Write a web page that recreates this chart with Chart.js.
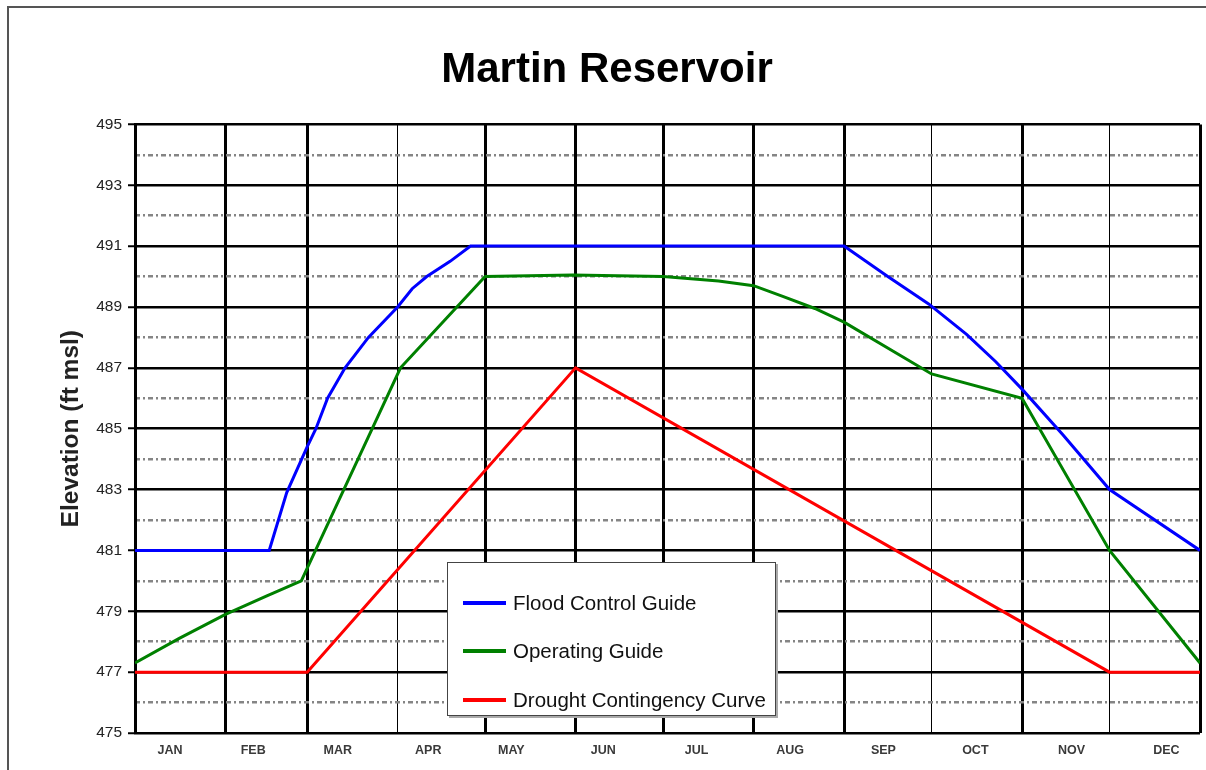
<!DOCTYPE html>
<html>
<head>
<meta charset="utf-8">
<title>Martin Reservoir</title>
<script src="https://cdn.jsdelivr.net/npm/chart.js@4.4.1/dist/chart.umd.min.js"></script>
<style>
  body { margin: 0; background: #fff; }
  #wrap { position: relative; width: 1206px; height: 770px; }
  #frame {
    position: absolute; left: 7px; top: 6px; width: 1199px; height: 764px;
    border-top: 2px solid #555; border-left: 2px solid #555; pointer-events: none;
  }
  #legend {
    position: absolute; left: 447px; top: 562px; width: 327px; height: 152px;
    background: #fff; border: 1px solid #444; box-shadow: 2px 2px 0 #aaa;
    font-family: "Liberation Sans", Arial, sans-serif; font-size: 20.5px; color: #111;
  }
  .item { position: absolute; left: 0; height: 26px; white-space: nowrap; }
  .item .swatch { position: absolute; left: 15px; top: 11px; width: 43px; height: 4px; }
  .item span { position: absolute; left: 65px; top: 1px; }
</style>
</head>
<body>
<div id="wrap">
  <canvas id="chart" width="1206" height="770"></canvas>
  <div id="frame"></div>
  <div id="legend"></div>
</div>
<script>
// day-of-year (0 = Jan 1) where each month starts, plus year end
const monthStarts = [0, 31, 59, 90, 120, 151, 181, 212, 243, 273, 304, 334, 365];
const thinMonthLines = [90, 273, 334];
const monthNames = ['JAN', 'FEB', 'MAR', 'APR', 'MAY', 'JUN', 'JUL', 'AUG', 'SEP', 'OCT', 'NOV', 'DEC'];
const monthLabelDays = [12, 40.5, 69.5, 100.5, 129, 160.5, 192.5, 224.5, 256.5, 288, 321, 353.5];

// elevation ticks
const solidTicks = [475, 477, 479, 481, 483, 485, 487, 489, 491, 493, 495];
const dottedTicks = [476, 478, 480, 482, 484, 486, 488, 490, 492, 494];

// series: [day, elevation ft msl]
const floodControl = [
  [0, 481], [46, 481], [52, 482.9], [59, 484.4], [62, 485], [66, 486], [72, 487],
  [80, 488], [90, 489], [95, 489.6], [100, 490], [108, 490.5], [115, 491], [243, 491],
  [258, 490], [272, 489.1], [285, 488.1], [295, 487.2], [304, 486.3],
  [318, 484.8], [334, 483], [365, 481]
];
const operatingGuide = [
  [0, 477.3], [15, 478.1], [31, 478.9], [45, 479.5], [57, 480], [91, 487],
  [120, 490], [150, 490.05], [181, 490], [200, 489.85], [212, 489.7],
  [222, 489.35], [233, 488.95], [243, 488.5], [273, 486.8], [304, 486], [334, 481], [365, 477.3]
];
const droughtCurve = [
  [0, 477], [59, 477], [151, 487], [334, 477], [365, 477]
];

const toPoints = arr => arr.map(p => ({ x: p[0], y: p[1] }));
const FONT = '"Liberation Sans", Arial, sans-serif';

const chart = new Chart(document.getElementById('chart'), {
  type: 'line',
  data: {
    datasets: [
      { label: 'Flood Control Guide', data: toPoints(floodControl), borderColor: '#0000ff' },
      { label: 'Operating Guide', data: toPoints(operatingGuide), borderColor: '#008000' },
      { label: 'Drought Contingency Curve', data: toPoints(droughtCurve), borderColor: '#ff0000' }
    ]
  },
  options: {
    responsive: false,
    animation: false,
    layout: { padding: { left: 14, right: 6, top: 0, bottom: 0 } },
    elements: {
      line: { borderWidth: 3, tension: 0, fill: false },
      point: { radius: 0 }
    },
    plugins: {
      legend: { display: false },
      tooltip: { enabled: false },
      title: {
        display: true,
        text: 'Martin Reservoir',
        color: '#000',
        font: { family: FONT, size: 42, weight: 'bold' },
        padding: { top: 45, bottom: 29 }
      }
    },
    scales: {
      x: {
        type: 'linear', position: 'bottom', min: 0, max: 365, weight: 0,
        afterBuildTicks: s => { s.ticks = monthStarts.map(v => ({ value: v })); },
        afterFit: s => { s.height = 0; },
        ticks: { display: false },
        grid: {
          color: '#000',
          lineWidth: c => (thinMonthLines.includes(c.tick && c.tick.value) ? 1 : 3),
          drawTicks: false
        },
        border: { display: false }
      },
      xm: {
        type: 'linear', position: 'bottom', min: 0, max: 365, weight: 1,
        afterBuildTicks: s => { s.ticks = monthLabelDays.map(v => ({ value: v })); },
        afterFit: s => { s.height = 37; },
        ticks: {
          autoSkip: false, maxRotation: 0, padding: 10, color: '#3a3a3a',
          font: { family: FONT, size: 12.5, weight: 'bold' },
          callback: (v, i) => monthNames[i]
        },
        grid: { display: false, drawTicks: false },
        border: { display: false }
      },
      y: {
        position: 'left', min: 475, max: 495,
        afterBuildTicks: s => { s.ticks = solidTicks.map(v => ({ value: v })); },
        afterFit: s => { s.width = 121; },
        ticks: { padding: 6, color: '#222', font: { family: FONT, size: 15.5 } },
        grid: { color: '#000', lineWidth: 2.5, tickLength: 7, tickColor: '#000', tickWidth: 2 },
        border: { display: true, color: '#000', width: 3 },
        title: {
          display: true, text: 'Elevation (ft msl)', color: '#222',
          font: { family: FONT, size: 24.5, weight: 'bold' },
          padding: { top: 43, bottom: 0 }
        }
      },
      y2: {
        position: 'right', min: 475, max: 495,
        afterBuildTicks: s => { s.ticks = dottedTicks.map(v => ({ value: v })); },
        afterFit: s => { s.width = 0; },
        ticks: { display: false },
        grid: { color: '#858585', lineWidth: 2.5, drawTicks: false },
        border: { display: false, dash: [5, 3, 2, 3] }
      }
    }
  }
});

// legend box inside the plot, built from the chart's datasets
const legendBox = document.getElementById('legend');
const legendTops = [27, 75, 124];
chart.data.datasets.forEach((ds, i) => {
  const item = document.createElement('div');
  item.className = 'item';
  item.style.top = legendTops[i] + 'px';
  item.innerHTML = '<div class="swatch" style="background:' + ds.borderColor + '"></div><span>' + ds.label + '</span>';
  legendBox.appendChild(item);
});
</script>
</body>
</html>
